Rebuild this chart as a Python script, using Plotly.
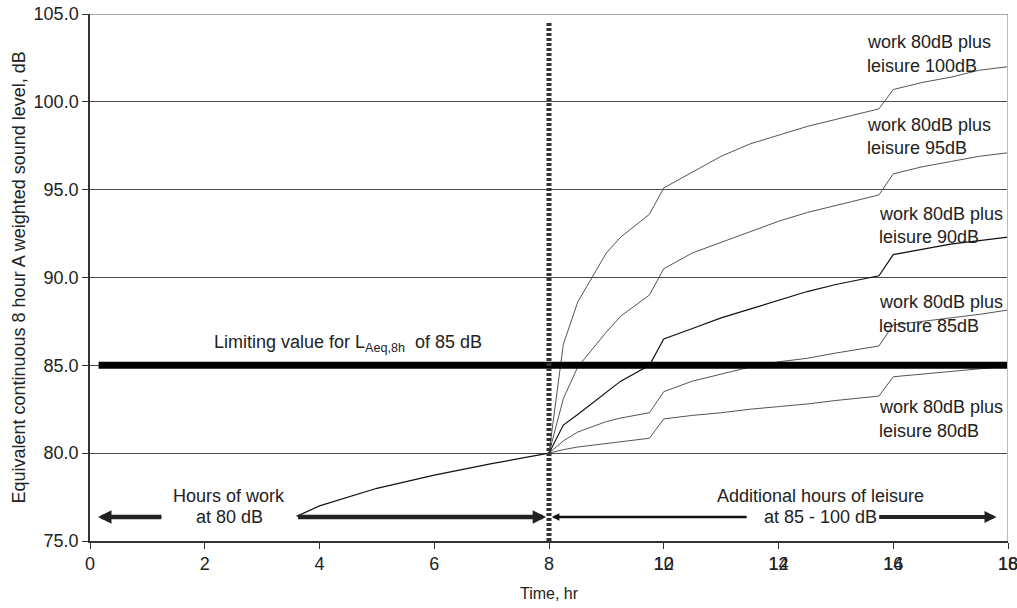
import plotly.graph_objects as go

# ---------------- data ----------------
work_x = [3.6, 4, 5, 6, 7, 8]
work_y = [76.4, 77.0, 78.0, 78.75, 79.4, 80.0]

leisure_x = [8, 8.25, 8.5, 9, 9.25, 9.75, 10, 10.5, 11, 11.5, 12, 12.5, 13, 13.75, 14, 14.5, 15, 15.5, 16]
leisure_100 = [80, 86.2, 88.6, 91.4, 92.3, 93.6, 95.1, 96.0, 96.9, 97.6, 98.1, 98.6, 99.0, 99.6, 100.7, 101.1, 101.4, 101.8, 102.0]
leisure_95 = [80, 83.1, 84.9, 86.9, 87.8, 89.0, 90.5, 91.4, 92.0, 92.6, 93.2, 93.7, 94.1, 94.7, 95.9, 96.3, 96.6, 96.9, 97.1]
leisure_90 = [80, 81.6, 82.2, 83.5, 84.1, 85.0, 86.5, 87.1, 87.7, 88.2, 88.7, 89.2, 89.6, 90.1, 91.3, 91.6, 91.9, 92.1, 92.3]
leisure_85 = [80, 80.7, 81.2, 81.8, 82.0, 82.3, 83.5, 84.1, 84.5, 84.9, 85.2, 85.4, 85.7, 86.1, 87.3, 87.5, 87.7, 87.9, 88.15]
leisure_80 = [80, 80.2, 80.35, 80.55, 80.65, 80.85, 81.95, 82.15, 82.3, 82.5, 82.65, 82.8, 83.0, 83.25, 84.35, 84.5, 84.65, 84.8, 84.95]

limit_level = 85.0
limit_x = [0.15, 16]
divider_x = 8
divider_top = 104.6
arrow_level = 76.37

y_ticks = [75, 80, 85, 90, 95, 100, 105]
x_ticks = [0, 2, 4, 6, 8, 10, 12, 14, 16]
x_tick_labels = ["0", "2", "4", "6", "8", "10", "12", "14", "16"]
x_overlay_ticks = [10, 12, 14, 16]
x_overlay_labels = ["12", "14", "16", "18"]

series_labels = [
    ("work 80dB plus", "leisure 100dB"),
    ("work 80dB plus", "leisure 95dB"),
    ("work 80dB plus", "leisure 90dB"),
    ("work 80dB plus", "leisure 85dB"),
    ("work 80dB plus", "leisure 80dB"),
]

FONT = "Liberation Sans, Arial, sans-serif"
TXT = "#222222"
FS = 18

fig = go.Figure()

thin = dict(color="#555555", width=1)
for ys in [leisure_100, leisure_95, leisure_85, leisure_80]:
    fig.add_trace(go.Scatter(x=leisure_x, y=ys, mode="lines", line=thin,
                             showlegend=False, hoverinfo="skip"))
fig.add_trace(go.Scatter(x=leisure_x, y=leisure_90, mode="lines",
                         line=dict(color="#111111", width=1.2),
                         showlegend=False, hoverinfo="skip"))
fig.add_trace(go.Scatter(x=work_x, y=work_y, mode="lines",
                         line=dict(color="#111111", width=1.2),
                         showlegend=False, hoverinfo="skip"))
# limiting value line
fig.add_trace(go.Scatter(x=limit_x, y=[limit_level, limit_level], mode="lines",
                         line=dict(color="#000000", width=7),
                         showlegend=False, hoverinfo="skip"))
# divider at end of work shift
fig.add_trace(go.Scatter(x=[divider_x, divider_x], y=[y_ticks[0], divider_top], mode="lines",
                         line=dict(color="#333333", width=5, dash="3px,2px"),
                         showlegend=False, hoverinfo="skip"))
# invisible helper for overlay tick axis
fig.add_trace(go.Scatter(x=x_overlay_ticks, y=[y_ticks[0]] * len(x_overlay_ticks),
                         xaxis="x2", mode="lines", line=dict(width=0),
                         showlegend=False, hoverinfo="skip"))

annotations = []
# right-hand series labels
label_pos = [(13.5, 103.4, 102.04), (13.5, 98.68, 97.37), (13.72, 93.6, 92.3),
             (13.72, 88.6, 87.24), (13.72, 82.63, 81.26)]
for (l1, l2), (lx, y1, y2) in zip(series_labels, label_pos):
    for t, yy in [(l1, y1), (l2, y2)]:
        annotations.append(dict(x=lx, y=yy, text=t, showarrow=False, xanchor="left",
                                yanchor="middle", font=dict(family=FONT, size=FS, color=TXT)))

# limiting value label
annotations.append(dict(x=2.13, y=86.27,
                        text="Limiting value for L<sub>Aeq,8h</sub>  of 85 dB",
                        showarrow=False, xanchor="left", yanchor="middle",
                        font=dict(family=FONT, size=FS, color=TXT)))

# bottom texts
for t, xx, yy in [("Hours of work", 2.43, 77.55), ("at 80 dB", 2.43, arrow_level),
                  ("Additional hours of leisure", 12.73, 77.55), ("at 85 - 100 dB", 12.73, arrow_level)]:
    annotations.append(dict(x=xx, y=yy, text=t, showarrow=False, xanchor="center",
                            yanchor="middle", font=dict(family=FONT, size=FS, color=TXT)))

# axis titles
annotations.append(dict(xref="paper", yref="paper", x=-0.0784, y=0.5, textangle=-90,
                        text="Equivalent continuous 8 hour A weighted sound level, dB",
                        showarrow=False, xanchor="center", yanchor="middle",
                        font=dict(family=FONT, size=18, color=TXT)))
annotations.append(dict(xref="paper", yref="paper", x=0.5, y=-0.0987, text="Time, hr",
                        showarrow=False, xanchor="center", yanchor="middle",
                        font=dict(family=FONT, size=16, color=TXT)))

# arrows (head at x, tail at ax)
arrows = [
    (0.14, 1.27, "#222222", 4.5),
    (7.95, 3.6, "#222222", 4.5),
    (8.05, 11.47, "#111111", 2.5),
    (15.8, 13.73, "#222222", 4),
]
for hx, tx, col, w in arrows:
    annotations.append(dict(x=hx, y=arrow_level, ax=tx, ay=arrow_level, axref="x", ayref="y",
                            xref="x", yref="y", text="", showarrow=True, arrowhead=2,
                            arrowsize=0.6, arrowwidth=w, arrowcolor=col, standoff=0))

shapes = []
# lighter interior on the double-line arrows
for a, b in [(0.3, 1.25), (3.62, 7.8), (13.75, 15.65)]:
    shapes.append(dict(type="line", xref="x", yref="y", x0=a, x1=b, y0=arrow_level, y1=arrow_level,
                       line=dict(color="#9a9a9a", width=1.6)))
# right border of plot area
shapes.append(dict(type="line", xref="x", yref="y", x0=16, x1=16, y0=75, y1=105,
                   line=dict(color="#bbbbbb", width=2)))
# top border
shapes.append(dict(type="line", xref="x", yref="y", x0=0, x1=16, y0=105, y1=105,
                   line=dict(color="#8a8a8a", width=1.5)))

tickfont = dict(family=FONT, size=FS, color=TXT)
fig.update_layout(
    width=1017, height=608,
    margin=dict(l=90, r=9, t=14, b=67, autoexpand=False),
    paper_bgcolor="white", plot_bgcolor="white",
    showlegend=False,
    annotations=annotations,
    shapes=shapes,
    xaxis=dict(range=[0, 16], tickvals=x_ticks, ticktext=x_tick_labels, automargin=False,
               ticklabeloverflow="allow",
               showgrid=False, zeroline=False, showline=True, linecolor="#333333", linewidth=1.5,
               ticks="outside", ticklen=6, tickcolor="#333333", tickfont=tickfont),
    xaxis2=dict(range=[0, 16], overlaying="x", side="bottom", anchor="y", automargin=False,
                ticklabeloverflow="allow",
                tickvals=x_overlay_ticks, ticktext=x_overlay_labels,
                showgrid=False, zeroline=False, showline=False,
                ticks="outside", ticklen=6, tickcolor="rgba(0,0,0,0)", tickfont=tickfont),
    yaxis=dict(range=[75, 105], tickvals=y_ticks, tickformat=".1f", automargin=False,
               ticklabeloverflow="allow",
               showgrid=True, gridcolor="#4a4a4a", gridwidth=1.2, zeroline=False,
               showline=True, linecolor="#333333", linewidth=1.5,
               ticks="outside", ticklen=6, tickcolor="#333333", tickfont=tickfont),
)

fig.write_html("out.html", config={"displayModeBar": False},
               post_script="document.body.style.margin='0';")
